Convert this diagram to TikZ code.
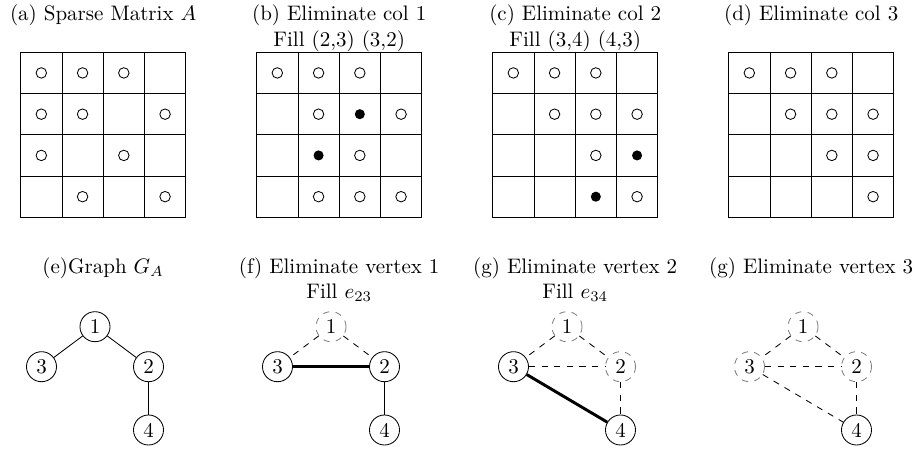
\documentclass[tikz,border=0pt]{standalone}
\newcommand\matgrid{%
  \draw[gridline] (0,0) rectangle (165,165);
  \foreach \k in {1,2,3} {\draw[gridline] (\k*41.25,0) -- (\k*41.25,165);
    \draw[gridline] (0,\k*41.25) -- (165,\k*41.25);}}
\newcommand\ocell[2]{\draw[opendot] ({(#2-0.5)*41.25},{(#1-0.5)*41.25}) circle[radius=2.5pt];}
\newcommand\fcell[2]{\fill ({(#2-0.5)*41.25},{(#1-0.5)*41.25}) circle[radius=2.4pt];}
\begin{document}
\begin{tikzpicture}[x=0.4762pt,y=-0.4762pt,
  gridline/.style={line width=0.4pt},
  opendot/.style={line width=0.4pt},
  vtx/.style={circle,draw,minimum size=14.3pt,inner sep=0pt},
  gone/.style={circle,draw=gray,dashed,minimum size=14.3pt,inner sep=0pt},
  title/.style={anchor=north,inner sep=0pt,align=center},
  edge/.style={line width=0.4pt},
  oldedge/.style={dashed,line width=0.4pt},
  filledge/.style={line width=1.4pt}]
\useasboundingbox (0,0) rectangle (916,450);
% titles top row
\node[title] (ta) at (103.2,4.8) {(a) Sparse Matrix $A$};
\node[title] (tb) at (339.2,4.8) {(b) Eliminate col 1\\Fill (2,3) (3,2)};
\node[title] (tc) at (575.2,4.8) {(c) Eliminate col 2\\Fill (3,4) (4,3)};
\node[title] (td) at (811.2,4.8) {(d) Eliminate col 3};
% matrix (a)
\begin{scope}[shift={(20.7,52.3)}]
  \matgrid
  \ocell11 \ocell12 \ocell13
  \ocell21 \ocell22 \ocell24
  \ocell31 \ocell33
  \ocell42 \ocell44
\end{scope}
% matrix (b)
\begin{scope}[shift={(256.7,52.3)}]
  \matgrid
  \ocell11 \ocell12 \ocell13
  \ocell22 \fcell23 \ocell24
  \fcell32 \ocell33
  \ocell42 \ocell43 \ocell44
\end{scope}
% matrix (c)
\begin{scope}[shift={(492.7,52.3)}]
  \matgrid
  \ocell11 \ocell12 \ocell13
  \ocell22 \ocell23 \ocell24
  \ocell33 \fcell34
  \fcell43 \ocell44
\end{scope}
% matrix (d)
\begin{scope}[shift={(728.7,52.3)}]
  \matgrid
  \ocell11 \ocell12 \ocell13
  \ocell22 \ocell23 \ocell24
  \ocell33 \ocell34
  \ocell44
\end{scope}
% titles bottom row
\node[title] (te) at (103.2,257.3) {(e)Graph $G_A$};
\node[title] (tf) at (339.2,257.3) {(f) Eliminate vertex 1\\Fill $e_{23}$};
\node[title] (tg) at (575.2,257.3) {(g) Eliminate vertex 2\\Fill $e_{34}$};
\node[title] (th) at (811.2,257.3) {(g) Eliminate vertex 3};
% graph (e)
\node[vtx] (e1) at (95,326.7) {1};
\node[vtx] (e3) at (41.5,366.7) {3};
\node[vtx] (e2) at (148.5,366.7) {2};
\node[vtx] (e4) at (148.5,430) {4};
\draw[edge] (e1) -- (e3);
\draw[edge] (e1) -- (e2);
\draw[edge] (e2) -- (e4);
% graph (f)
\node[gone] (f1) at (331,326.7) {1};
\node[vtx] (f3) at (277.5,366.7) {3};
\node[vtx] (f2) at (384.5,366.7) {2};
\node[vtx] (f4) at (384.5,430) {4};
\draw[oldedge] (f1) -- (f3);
\draw[oldedge] (f1) -- (f2);
\draw[filledge] (f3) -- (f2);
\draw[edge] (f2) -- (f4);
% graph (g)
\node[gone] (g1) at (567,326.7) {1};
\node[vtx] (g3) at (513.5,366.7) {3};
\node[gone] (g2) at (620.5,366.7) {2};
\node[vtx] (g4) at (620.5,430) {4};
\draw[oldedge] (g1) -- (g3);
\draw[oldedge] (g1) -- (g2);
\draw[oldedge] (g3) -- (g2);
\draw[oldedge] (g2) -- (g4);
\draw[filledge] (g3) -- (g4);
% graph (h)
\node[gone] (h1) at (803,326.7) {1};
\node[gone] (h3) at (749.5,366.7) {3};
\node[gone] (h2) at (856.5,366.7) {2};
\node[vtx] (h4) at (856.5,430) {4};
\draw[oldedge] (h1) -- (h3);
\draw[oldedge] (h1) -- (h2);
\draw[oldedge] (h3) -- (h2);
\draw[oldedge] (h2) -- (h4);
\draw[oldedge] (h3) -- (h4);
\end{tikzpicture}
\end{document}
